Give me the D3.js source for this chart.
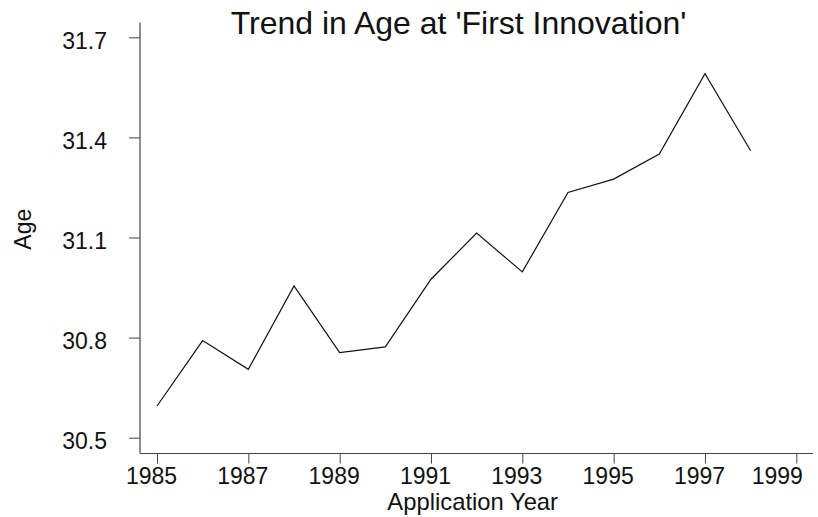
<!DOCTYPE html>
<html lang="en">
<head>
  <meta charset="utf-8">
  <title>Trend in Age at 'First Innovation'</title>
  <script src="https://d3js.org/d3.v7.min.js"></script>
  <style>
    body { margin: 0; background: #fff; }
    text { font-family: "Liberation Sans", Arial, sans-serif; fill: #111; }
  </style>
</head>
<body>
  <div id="chart"></div>
  <script>
    // data
    var years = [1985, 1986, 1987, 1988, 1989, 1990, 1991, 1992, 1993, 1994, 1995, 1996, 1997, 1998];
    var age = [30.595, 30.791, 30.705, 30.955, 30.755, 30.772, 30.975, 31.113, 30.997, 31.235, 31.275, 31.350, 31.591, 31.360];
    var xTicks = [1985, 1987, 1989, 1991, 1993, 1995, 1997, 1999];
    var yTicks = [30.5, 30.8, 31.1, 31.4, 31.7];

    var width = 818, height = 517;
    var svg = d3.select("#chart").append("svg")
      .attr("width", width)
      .attr("height", height);

    var x = d3.scaleLinear().domain([1985, 1999]).range([157, 796.3]);
    var y = d3.scaleLinear().domain([30.5, 31.7]).range([437.7, 37.3]);

    var axisColor = "#444";

    // y axis
    var yAxis = svg.append("g")
      .attr("transform", "translate(140,0)")
      .call(d3.axisLeft(y).tickValues(yTicks).tickSize(11).tickPadding(22)
        .tickFormat(d3.format(".1f")));
    yAxis.select(".domain").remove();
    yAxis.selectAll(".tick line").attr("stroke", axisColor);
    yAxis.selectAll(".tick text")
      .attr("font-size", 23)
      .attr("dy", "0.49em")
      .style("font-family", "Liberation Sans, Arial, sans-serif")
      .attr("fill", "#111");
    svg.append("line")
      .attr("x1", 140).attr("x2", 140)
      .attr("y1", 22.5).attr("y2", 453.5)
      .attr("stroke", axisColor).attr("stroke-width", 1.2);

    // x axis
    var xAxis = svg.append("g")
      .attr("transform", "translate(0,453.5)")
      .call(d3.axisBottom(x).tickValues(xTicks).tickSize(10).tickPadding(4)
        .tickFormat(d3.format("d")));
    xAxis.select(".domain").remove();
    xAxis.selectAll(".tick line").attr("stroke", axisColor);
    xAxis.selectAll(".tick text")
      .attr("font-size", 23)
      .attr("dx", function (d) { return d === 1999 ? -19.5 : -6; })
      .style("font-family", "Liberation Sans, Arial, sans-serif")
      .attr("fill", "#111");
    svg.append("line")
      .attr("x1", 140).attr("x2", 813)
      .attr("y1", 453.5).attr("y2", 453.5)
      .attr("stroke", axisColor).attr("stroke-width", 1.2);

    // line
    var line = d3.line()
      .x(function (d, i) { return x(years[i]); })
      .y(function (d) { return y(d); });
    svg.append("path")
      .datum(age)
      .attr("d", line)
      .attr("fill", "none")
      .attr("stroke", "#111")
      .attr("stroke-width", 1.2);

    // titles
    svg.append("text")
      .attr("x", 458.5).attr("y", 34.3)
      .attr("text-anchor", "middle")
      .attr("font-size", 32)
      .text("Trend in Age at 'First Innovation'");

    svg.append("text")
      .attr("x", 472.7).attr("y", 510)
      .attr("text-anchor", "middle")
      .attr("font-size", 23.8)
      .text("Application Year");

    svg.append("text")
      .attr("transform", "translate(31,229.2) rotate(-90)")
      .attr("text-anchor", "middle")
      .attr("font-size", 23)
      .text("Age");
  </script>
</body>
</html>
